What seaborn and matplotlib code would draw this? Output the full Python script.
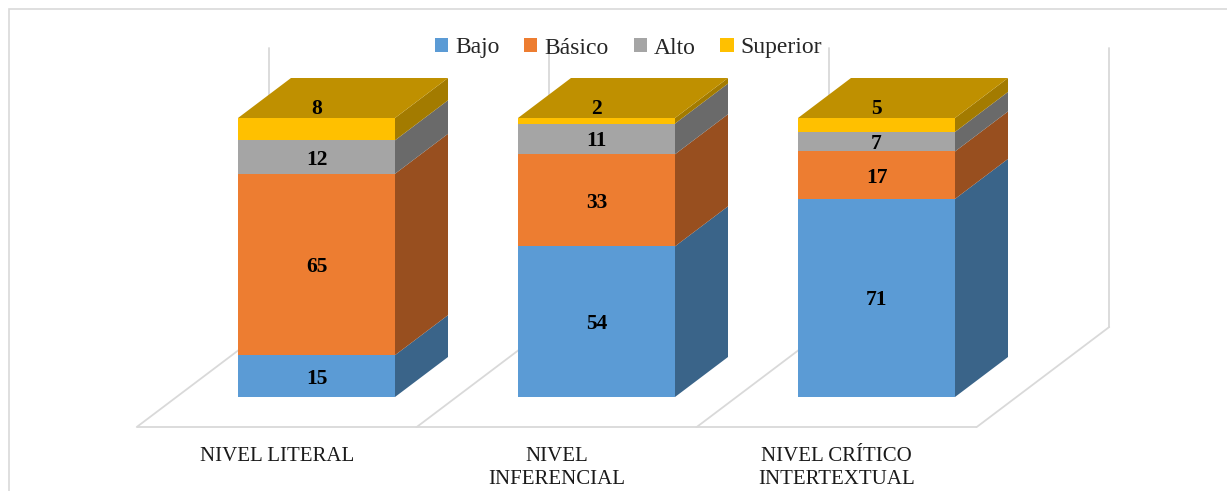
import numpy as np
import pandas as pd
import seaborn as sns
import matplotlib
matplotlib.use("Agg")
import matplotlib.pyplot as plt
from matplotlib.patches import Polygon, Patch, Rectangle

# ---------------- data ----------------
categories = ["NIVEL LITERAL", "NIVEL\nINFERENCIAL", "NIVEL CRÍTICO\nINTERTEXTUAL"]
series = ["Bajo", "Básico", "Alto", "Superior"]
bajo = [15, 54, 71]
basico = [65, 33, 17]
alto = [12, 11, 7]
superior = [8, 2, 5]

front_colors = ["#5B9BD5", "#ED7D31", "#A5A5A5", "#FFC000"]
side_colors = ["#3A6489", "#984F1F", "#6A6A6A", "#A37B00"]
top_colors = ["#3F6C95", "#A5571F", "#737373", "#BF9000"]
grid_color = "#D9D9D9"

# ---------------- layout ----------------
sns.set_theme(style="white")
plt.rcParams["font.family"] = ["Liberation Serif", "DejaVu Serif"]

FIG_W, FIG_H, DPI = 12.27, 4.91, 100
fig = plt.figure(figsize=(FIG_W, FIG_H), dpi=DPI)
ax = fig.add_axes([0, 0, 1, 1])

px_per_cat = 280.0
px_per_val = 2.79
x0_px = 316.5          # centre of first bar (px from left)
y0_px = 94.0           # value 0 (px from bottom)
bar_w = 157.0 / px_per_cat
dxc = 53.0 / px_per_cat      # depth vector, category units
dyv = 40.0 / px_per_val      # depth vector, value units
front_f, back_f = 0.75, 1.75  # floor extents relative to bar depth

values = [bajo, basico, alto, superior]
df = pd.DataFrame({"categoria": categories})
for name, v in zip(series, values):
    df[name] = v
cum = df[series].cumsum(axis=1)

# ---------------- floor & back wall ----------------
n = len(categories)
bounds = np.arange(n + 1) - 0.5
ax.plot([bounds[0] - front_f * dxc, bounds[-1] - front_f * dxc],
        [-front_f * dyv, -front_f * dyv], color=grid_color, lw=1.3, zorder=0.5,
        solid_capstyle="butt")
for b in bounds:
    ax.plot([b - front_f * dxc, b + back_f * dxc],
            [-front_f * dyv, back_f * dyv], color=grid_color, lw=1.3, zorder=0.5)
    ax.plot([b + back_f * dxc, b + back_f * dxc],
            [back_f * dyv, 100 + back_f * dyv], color=grid_color, lw=1.3, zorder=0.5)

# ---------------- bars (stacked via cumulative totals) ----------------
for k in range(len(series) - 1, -1, -1):
    sns.barplot(data=cum.assign(categoria=categories), x="categoria", y=series[k],
                order=categories, color=front_colors[k], saturation=1,
                width=bar_w, linewidth=0, edgecolor="none", ax=ax, zorder=2)

# side faces and top face
for i in range(n):
    xl, xr = i - bar_w / 2, i + bar_w / 2
    bottom = 0
    for k in range(len(series)):
        top = cum.iloc[i, k]
        poly = Polygon([(xr, bottom), (xr + dxc, bottom + dyv),
                        (xr + dxc, top + dyv), (xr, top)],
                       closed=True, facecolor=side_colors[k], edgecolor="none",
                       zorder=1.8)
        ax.add_patch(poly)
        bottom = top
    T = cum.iloc[i, -1]
    ax.add_patch(Polygon([(xl, T), (xr, T), (xr + dxc, T + dyv), (xl + dxc, T + dyv)],
                         closed=True, facecolor=top_colors[-1], edgecolor="none",
                         zorder=1.8))

# data labels
for i in range(n):
    bottom = 0
    for k in range(len(series)):
        v = values[k][i]
        top = bottom + v
        if k == len(series) - 1:
            yl = top + 0.3 * dyv
        else:
            yl = (bottom + top) / 2
        ax.text(i, yl, f"{v}", ha="center", va="center_baseline", fontsize=15.5,
                fontweight="bold", color="black", zorder=6)
        bottom = top

# category labels
for i, lab in enumerate(categories):
    ax.text(i - front_f * dxc, -front_f * dyv - 7.0, lab, ha="center", va="top",
            fontsize=15, color="#1A1A1A", linespacing=1.3, zorder=6)

# limits
ax.set_xlim((0 - x0_px) / px_per_cat, (FIG_W * DPI - x0_px) / px_per_cat)
ax.set_ylim((0 - y0_px) / px_per_val, (FIG_H * DPI - y0_px) / px_per_val)
ax.axis("off")

# legend
handles = [Patch(facecolor=c, edgecolor="none") for c in front_colors]
fig.legend(handles, series, loc="center", bbox_to_anchor=(628.5 / 1227, 1 - 48 / 491),
           bbox_transform=fig.transFigure, ncol=4, frameon=False,
           prop={"family": ["Liberation Serif"], "size": 17},
           handlelength=0.56, handleheight=0.56, handletextpad=0.3,
           columnspacing=1.05, borderpad=0)

# outer chart border
fig.patches.append(Rectangle((9 / 1227, -0.1), 1.2, (491 - 9) / 491 + 0.1,
                             fill=False, edgecolor=grid_color, lw=1.2,
                             transform=fig.transFigure, figure=fig))

fig.savefig("out.png", dpi=DPI, facecolor="white")
